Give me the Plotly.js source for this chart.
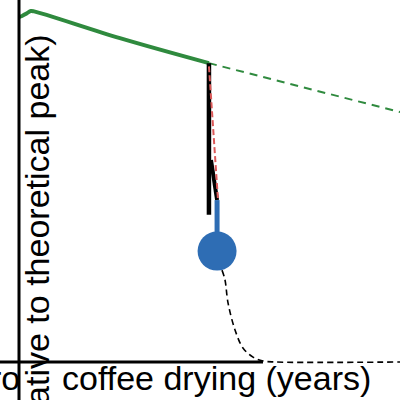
<!DOCTYPE html>
<html>
<head>
<meta charset="utf-8">
<script src="https://cdn.plot.ly/plotly-3.0.1.min.js"></script>
<style>html,body{margin:0;padding:0;background:#fff;}#chart{width:400px;height:400px;}</style>
</head>
<body>
<div id="chart"></div>
<script>
// Data (x in years, y relative to theoretical peak)
const greenX = [0, 0.16, 0.42, 0.63, 0.80, 5.34, 10.05];
const greenY = [0.980, 0.983, 0.991, 0.997, 0.996, 0.920, 0.849];
const greenDashX = [10.05, 20.16];
const greenDashY = [0.849, 0.710];
const dropX = [10.05, 10.05];
const dropY = [0.849, 0.418];
const stepX = [10.16, 10.48];
const stepY = [0.574, 0.460];
const redX = [10.05, 10.53];
const redY = [0.840, 0.460];
const blueX = [10.48, 10.48];
const blueY = [0.460, 0.361];
const pointX = [10.48];
const pointY = [0.315];
const decayX = [10.74, 10.90, 11.06, 11.43, 11.85, 12.38, 12.91, 13.54, 20.16];
const decayY = [0.261, 0.233, 0.168, 0.091, 0.040, 0.014, 0.003, 0, 0];
const baseX = [-1.1, 12.91];
const baseY = [0, 0];
const xTitleLeft = "ro";
const xTitleRight = "coffee drying (years)";
const yTitle = "(relative to theoretical peak)";

const font = {family: "Liberation Sans, Arial, sans-serif", size: 34, color: "#000"};
const green = "#2f8a3e";
const traces = [
  {x: baseX, y: baseY, mode: "lines", line: {color: "#000", width: 3}},
  {x: decayX, y: decayY, mode: "lines", line: {color: "#000", width: 1.6, dash: "6px,4px", shape: "spline"}},
  {x: greenX, y: greenY, mode: "lines", line: {color: green, width: 4, shape: "spline"}},
  {x: greenDashX, y: greenDashY, mode: "lines", line: {color: green, width: 2, dash: "8px,6px"}},
  {x: dropX, y: dropY, mode: "lines", line: {color: "#000", width: 4.5}},
  {x: stepX, y: stepY, mode: "lines", line: {color: "#000", width: 4}},
  {x: blueX, y: blueY, mode: "lines", line: {color: "#2e6db4", width: 5}},
  {x: redX, y: redY, mode: "lines", line: {color: "#dc5a5a", width: 2, dash: "6px,3px"}},
  {x: pointX, y: pointY, mode: "markers", marker: {color: "#2e6db4", size: 39}}
];
const layout = {
  width: 400, height: 400,
  margin: {l: 0, r: 0, t: 0, b: 0},
  paper_bgcolor: "#fff", plot_bgcolor: "#fff",
  showlegend: false,
  xaxis: {range: [-1.0053, 20.159], visible: false, fixedrange: true},
  yaxis: {range: [-0.108, 1.0284], visible: false, fixedrange: true},
  shapes: [
    {type: "line", xref: "x", yref: "paper", x0: 0, x1: 0, y0: 0, y1: 1, line: {color: "#000", width: 3}}
  ],
  annotations: [
    {xref: "paper", yref: "paper", x: 37/400, y: 1 - 32/400, xanchor: "center", yanchor: "top",
     textangle: -90, text: yTitle, showarrow: false, font: font},
    {xref: "paper", yref: "paper", x: 60/400, y: 1 - 378/400, xanchor: "left", yanchor: "middle",
     text: xTitleRight, showarrow: false, font: font},
    {xref: "paper", yref: "paper", x: 22/400, y: 1 - 378/400, xanchor: "right", yanchor: "middle",
     text: xTitleLeft, showarrow: false, font: font}
  ]
};
Plotly.newPlot("chart", traces, layout, {staticPlot: true, displayModeBar: false});
</script>
</body>
</html>
